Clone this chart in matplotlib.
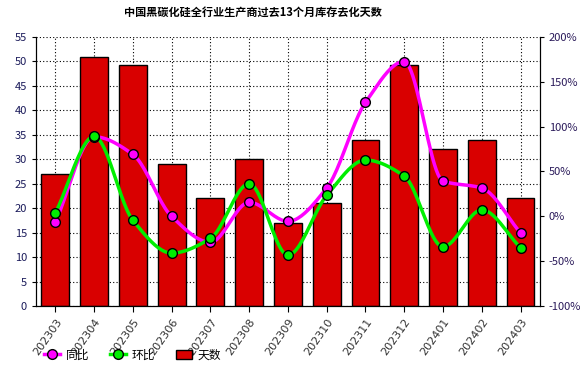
import matplotlib
matplotlib.use("Agg")
from matplotlib import pyplot as plt
from matplotlib.lines import Line2D
from matplotlib.patches import Patch
import numpy as np

plt.rcParams['font.family'] = ['Noto Sans CJK SC', 'DejaVu Sans']

months = ['202303', '202304', '202305', '202306', '202307', '202308', '202309',
          '202310', '202311', '202312', '202401', '202402', '202403']
days = [27, 51, 49.2, 29, 22, 30, 17, 21, 34, 49.2, 32, 34, 22]
yoy = [-6.7, 88.7, 69, -0.2, -29, 15.6, -5.6, 31.5, 127, 172.6, 39.3, 31.5, -18.5]
mom = [3.6, 89, -4.5, -41, -24.7, 36.4, -43.3, 23.3, 62.7, 44.9, -34, 7.1, -35]


def smooth(x, y, n=24):
    # monotone cubic (Fritsch-Carlson) through the points, only for drawing
    x = np.asarray(x, float)
    y = np.asarray(y, float)
    h = np.diff(x)
    d = np.diff(y) / h
    m = np.zeros_like(y)
    m[0], m[-1] = d[0], d[-1]
    for i in range(1, len(y) - 1):
        if d[i - 1] * d[i] <= 0:
            m[i] = 0
        else:
            m[i] = 2 / (1 / d[i - 1] + 1 / d[i])
    xs, ys = [], []
    t = np.linspace(0, 1, n)
    for i in range(len(y) - 1):
        h00 = 2 * t ** 3 - 3 * t ** 2 + 1
        h10 = t ** 3 - 2 * t ** 2 + t
        h01 = -2 * t ** 3 + 3 * t ** 2
        h11 = t ** 3 - t ** 2
        xs.extend(x[i] + t * h[i])
        ys.extend(h00 * y[i] + h10 * h[i] * m[i] + h01 * y[i + 1] + h11 * h[i] * m[i + 1])
    return np.array(xs), np.array(ys)


fig = plt.figure(figsize=(5.88, 3.66), dpi=100)
ax = fig.add_axes([0.0612, 0.164, 0.857, 0.735])
x = np.arange(len(months))

ax.bar(x, days, width=0.72, color='#d90000', edgecolor='black', linewidth=1, zorder=2)
ax.set_ylim(0, 55)
ax.set_yticks(range(0, 56, 5))
ax.set_xlim(-0.5, len(months) - 0.5)
ax.set_xticks(x)
ax.set_xticklabels(months, rotation=55, ha='right', rotation_mode='anchor', fontsize=8,
                   color='#333333', family='DejaVu Sans')
ax.tick_params(axis='y', labelsize=8, labelcolor='#1a1a5a', length=3)
ax.tick_params(axis='x', length=4)
ax.grid(True, color='black', linestyle=(0, (1, 2)), linewidth=0.8, zorder=0)
ax.set_axisbelow(True)
ax.spines['top'].set_visible(False)

ax2 = ax.twinx()
ax2.set_ylim(-100, 200)
ax2.set_yticks(range(-100, 201, 50))
ax2.set_yticklabels(['%d%%' % v for v in range(-100, 201, 50)])
ax2.tick_params(axis='y', labelsize=8, labelcolor='#2a1a5a', length=3)
ax2.spines['top'].set_visible(False)

sx, sy = smooth(x, yoy)
ax2.plot(sx, sy, color='#ff00ff', linewidth=2.5, zorder=3)
ax2.plot(x, yoy, 'o', color='#ff00ff', markeredgecolor='black', markersize=7, zorder=4)
sx, sy = smooth(x, mom)
ax2.plot(sx, sy, color='#00ee00', linewidth=2.5, zorder=3)
ax2.plot(x, mom, 'o', color='#00ee00', markeredgecolor='black', markersize=7, zorder=4)

fig.suptitle('中国黑碳化硅全行业生产商过去13个月库存去化天数', x=0.43, y=0.985,
             fontsize=8, fontweight='bold')

handles = [
    Line2D([], [], color='#ff00ff', lw=2.5, marker='o', markerfacecolor='#ff00ff',
           markeredgecolor='black', markersize=7),
    Line2D([], [], color='#00ee00', lw=2.5, marker='o', markerfacecolor='#00ee00',
           markeredgecolor='black', markersize=7),
    Patch(facecolor='#d90000', edgecolor='black'),
]
fig.legend(handles, ['同比', '环比', '天数'], loc='center left', bbox_to_anchor=(0.056, 0.03),
           ncol=3, frameon=False, fontsize=8.5, handlelength=1.4, columnspacing=1.7,
           handletextpad=0.5)

fig.savefig('out.png', dpi=100)
